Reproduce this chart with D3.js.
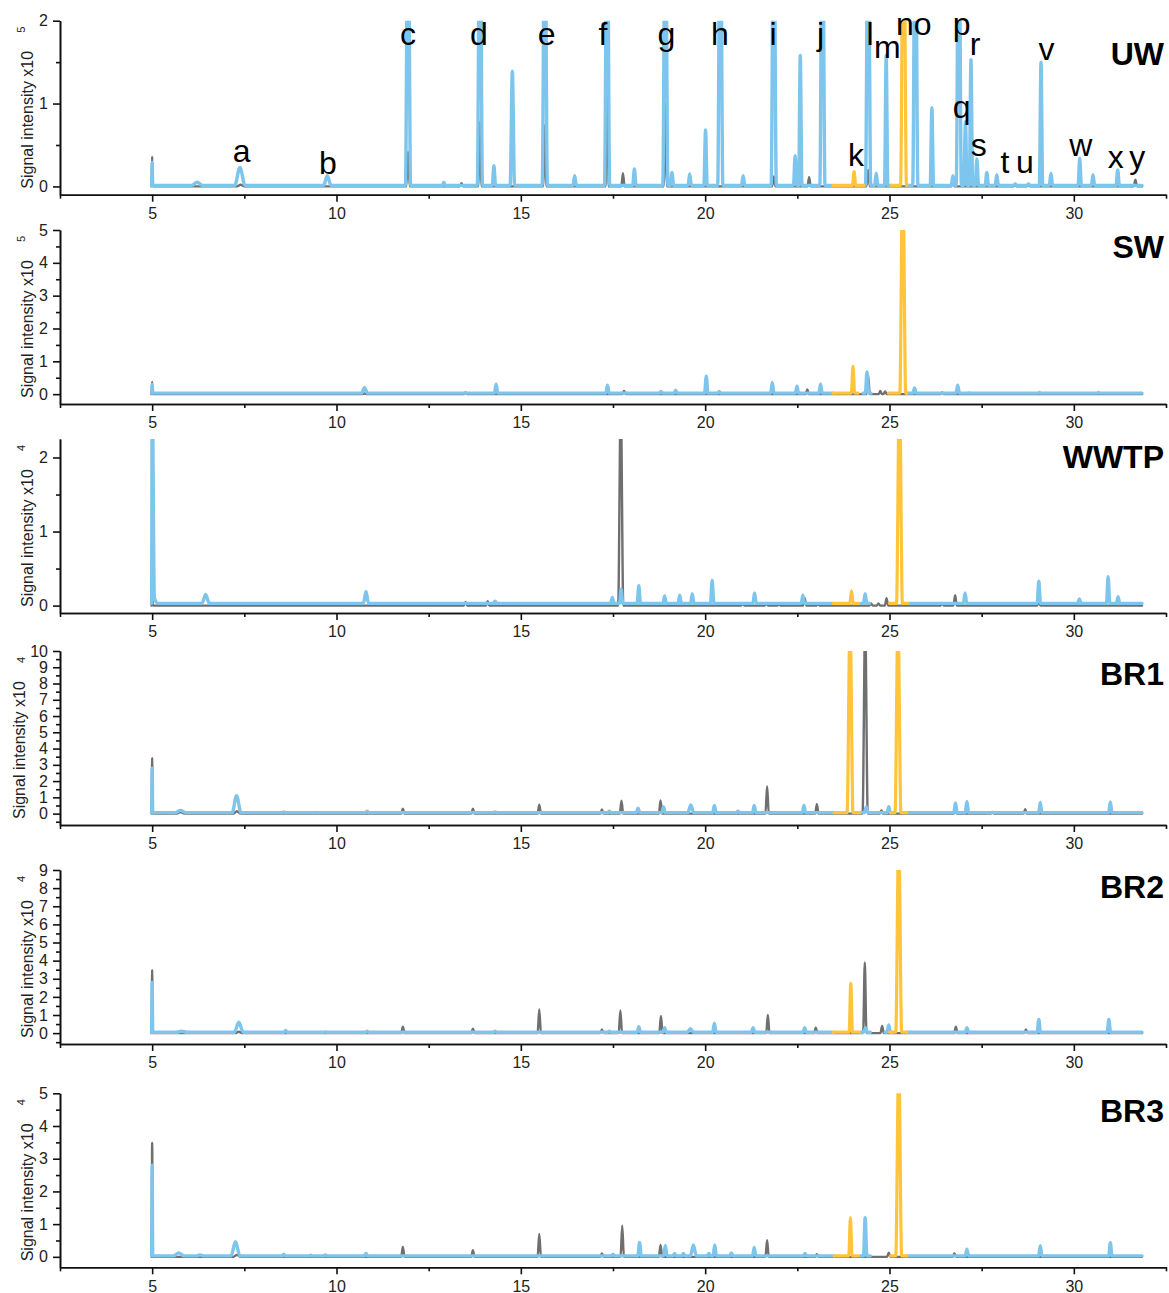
<!DOCTYPE html>
<html><head><meta charset="utf-8">
<script src="https://cdn.jsdelivr.net/npm/d3@7"></script>
<style>
body{margin:0;background:#fff;}
text{font-family:"Liberation Sans",Arial,Helvetica,sans-serif;}
</style>
</head><body>
<svg id="chart" width="1169" height="1293"></svg>
<script>
// ---------------- DATA ----------------
const panelNames = ["UW", "SW", "WWTP", "BR1", "BR2", "BR3"];
const yExponents = ["5", "5", "4", "4", "4", "4"];
const yDomains = [[-0.1, 2], [-0.3, 5], [-0.1, 2.25], [-0.7, 10], [-0.6, 9], [-0.32, 5]];
const yMaxTick = [2, 5, 2, 10, 9, 5];
const xDomain = [2.5, 32.5];
const xTicks = [5, 10, 15, 20, 25, 30];
const xMinorTicks = [2.5, 7.5, 12.5, 17.5, 22.5, 27.5, 32.5];
const yTitle = "Signal intensity x10";

// peaks: [retention time (min), intensity (x10^n), half width (min, optional)]
const grayPeaks = [
  // UW
  [[5.0,0.36,0.015],[7.4,0.02,0.1],[11.94,0.42],[13.39,0.04],[13.89,0.78],[15.65,0.74],[17.34,1.4],[17.77,0.16],[18.92,1.0],[21.86,0.12],[22.82,0.11],[24.42,0.2],[26.72,0.1],[28.41,0.03],[28.77,0.03],[31.67,0.08]],
  // SW
  [[5.0,0.37,0.015],[10.76,0.02],[13.5,0.05],[17.8,0.1],[22.77,0.14],[24.42,0.58],[24.75,0.1],[24.88,0.08],[26.43,0.05]],
  // WWTP
  [[5.0,0.4,0.015],[13.5,0.05],[14.1,0.06],[17.71,2.8,0.07],[21.02,0.03],[21.66,0.03],[22.0,0.02],[22.7,0.1],[23.06,0.02],[24.5,0.03],[24.7,0.03],[24.92,0.1],[26.43,0.03],[26.78,0.14],[29.05,0.05]],
  // BR1
  [[5.0,3.43,0.015],[5.77,0.1,0.1],[7.3,0.15,0.1],[11.8,0.3],[13.7,0.3],[15.5,0.55],[17.2,0.25],[17.73,0.79],[18.79,0.81],[21.68,1.68],[23.03,0.58],[24.34,12,0.07],[24.78,0.2],[26.79,0.2],[27.79,0.1],[28.68,0.27]],
  // BR2
  [[5.0,3.49,0.015],[7.35,0.08,0.1],[11.8,0.35],[13.7,0.25],[15.5,1.3],[17.2,0.2],[17.7,1.25],[18.8,0.95],[21.7,1.0],[23.0,0.3],[24.33,3.9],[24.8,0.4],[26.8,0.35],[28.7,0.2]],
  // BR3
  [[5.0,3.49,0.015],[7.3,0.06,0.1],[11.8,0.3],[13.7,0.2],[15.5,0.7],[17.2,0.1],[17.75,0.95],[18.79,0.36],[21.68,0.51],[23.03,0.08],[24.98,0.13],[26.76,0.1]]
];
const grayRanges = [
  [[4.98,31.85]], [[4.98,31.85]], [[4.98,31.85]], [[4.98,31.85]], [[4.98,31.85]], [[4.98,31.85]]
];

const bluePeaks = [
  // UW
  [[5.0,0.29,0.015],[6.22,0.05,0.15],[7.38,0.23,0.14],[9.75,0.13,0.1],[11.94,4,0.07],[12.91,0.05],[13.89,4,0.07],[14.27,0.25],[14.77,1.39,0.06],[15.65,4,0.07],[16.46,0.13],[17.34,4,0.07],[18.08,0.21],[18.92,4,0.07],[19.1,0.17],[19.58,0.15],[20.01,0.68],[20.41,4,0.07],[21.03,0.13],[21.86,4,0.07],[22.44,0.37],[22.58,1.58],[23.18,4,0.07],
   [24.42,4,0.07],[24.64,0.16],[24.91,1.58],
   [25.7,4,0.07],[26.15,0.95],[26.72,0.13],[26.88,4,0.07],[27.06,0.78],[27.21,1.53],[27.37,0.33],[27.64,0.17],[27.91,0.14],[28.41,0.03],[28.77,0.03],[29.11,1.5],[29.38,0.16],[30.16,0.34],[30.52,0.14],[31.19,0.2]],
  // SW
  [[5.0,0.3,0.015],[6.2,0.03,0.15],[10.76,0.2,0.08],[14.33,0.3],[17.35,0.27],[18.8,0.08],[19.2,0.12],[20.03,0.55],[20.38,0.08],[21.82,0.36],[22.49,0.24],[23.13,0.3],
   [24.39,0.68],
   [25.68,0.19],[26.85,0.27],[27.17,0.04],[29.07,0.05],[30.67,0.05],[31.17,0.03]],
  // WWTP
  [[5.0,3.0,0.015],[5.06,0.1,0.1],[6.45,0.15,0.1],[10.8,0.19,0.07],[14.3,0.06],[17.48,0.11],[17.72,0.22],[18.2,0.27],[18.9,0.13],[19.31,0.14],[19.65,0.16],[20.19,0.34],[21.34,0.17],[22.65,0.14],
   [24.34,0.16],
   [25.62,0.03],[27.05,0.17],[29.05,0.33],[30.15,0.09],[30.93,0.39],[31.2,0.12]],
  // BR1
  [[5.0,2.8,0.015],[5.77,0.2,0.14],[7.29,1.1,0.12],[8.57,0.1],[9.43,0.07],[10.83,0.15],[14.3,0.1],[17.4,0.15],[18.18,0.33],[18.87,0.41],[19.61,0.54,0.08],[20.25,0.5],[20.89,0.15],[21.33,0.5],[22.68,0.5],
   [24.37,0.41],[24.98,0.43],
   [26.79,0.66],[27.1,0.75],[29.09,0.68],[30.99,0.72]],
  // BR2
  [[5.0,2.79,0.015],[5.8,0.1,0.14],[7.35,0.6,0.12],[8.62,0.15],[9.7,0.07],[10.83,0.1],[14.3,0.1],[17.4,0.1],[18.2,0.35],[18.9,0.3],[19.6,0.25,0.08],[20.25,0.55],[21.3,0.3],[22.7,0.3],
   [24.35,0.3],[24.98,0.45],
   [27.1,0.3],[29.05,0.75],[30.95,0.75]],
  // BR3
  [[5.0,2.8,0.015],[5.72,0.12,0.14],[6.3,0.06,0.1],[7.26,0.46,0.12],[8.57,0.08],[9.3,0.05],[9.7,0.06],[10.8,0.1],[17.5,0.08],[18.22,0.44],[18.92,0.35],[19.17,0.1],[19.41,0.1],[19.68,0.36,0.08],[20.1,0.1],[20.26,0.36],[20.71,0.12],[21.33,0.29],[22.71,0.1],
   [24.34,1.2],
   [27.1,0.23],[29.09,0.34],[30.99,0.43]]
];
const blueRanges = [
  [[4.98,23.47],[24.3,25.05],[25.47,31.85]],
  [[4.98,23.47],[24.28,24.5],[25.47,31.85]],
  [[4.98,23.47],[24.22,24.46],[25.5,31.85]],
  [[4.98,23.5],[24.19,25.03],[25.47,31.85]],
  [[4.98,23.47],[24.22,24.48],[24.88,25.05],[25.47,31.85]],
  [[4.98,23.5],[24.2,24.48],[25.47,31.85]]
];
const blueBaseline = [0.012, 0.03, 0.03, 0.06, 0.05, 0.03];

const orangePeaks = [
  [[24.04,0.18],[25.38,4,0.08]],
  [[24.01,0.85],[25.36,7,0.08]],
  [[23.97,0.2],[25.27,3,0.08]],
  [[23.93,12,0.08],[25.23,12,0.08]],
  [[23.95,2.75],[25.25,11,0.08]],
  [[23.94,1.2],[25.25,6,0.08]]
];
const orangeRanges = [
  [[23.47,24.3],[25.05,25.47]],
  [[23.47,24.15],[24.97,25.47]],
  [[23.47,24.16],[25.0,25.5]],
  [[23.5,24.19],[25.03,25.47]],
  [[23.47,24.18],[25.0,25.47]],
  [[23.5,24.16],[25.03,25.47]]
];

// peak labels (UW panel): letter, retention time, label baseline (x10^5)
const peakLabels = ["a","b","c","d","e","f","g","h","i","j","k","l","m","n","o","p","q","r","s","t","u","v","w","x","y"];
const peakLabelT = [7.43,9.77,11.94,13.86,15.7,17.23,18.95,20.4,21.84,23.13,24.09,24.47,24.94,25.42,25.9,26.96,26.96,27.32,27.42,28.13,28.67,29.26,30.19,31.14,31.72];
const peakLabelV = [0.29,0.155,1.706,1.706,1.706,1.706,1.706,1.706,1.706,1.706,0.252,1.706,1.548,1.827,1.827,1.827,0.821,1.585,0.373,0.167,0.167,1.524,0.373,0.227,0.227];

// ---------------- LAYOUT ----------------
const panelTop = [20.7, 230, 439, 651, 870, 1093.3];
const panelH = 174;
const plotLeft = 60, plotRight = 1166;
const nameBaseline = [65, 258, 468, 685, 898, 1121.7];
const titleX = [33, 33, 33, 25, 33, 33];
const colors = {gray: "#6f6f6f", blue: "#7dc5ec", orange: "#ffc43a"};
const defaultHalfWidth = 0.045;

const svg = d3.select("#chart");
const x = d3.scaleLinear().domain(xDomain).range([plotLeft, plotRight]);

function tracePoints(peaks, range, base) {
  const [a, b] = range;
  const ps = peaks.filter(p => p[0] >= a && p[0] <= b).slice().sort((p, q) => p[0] - q[0]);
  const pts = [[a, base]];
  let prevRight = a;
  ps.forEach((p, i) => {
    const w = p[2] || defaultHalfWidth;
    const left = p[0] - w, right = p[0] + w;
    if (left > prevRight + 1e-6 && left > pts[pts.length - 1][0]) pts.push([left, base]);
    pts.push([p[0], p[1]]);
    const next = ps[i + 1];
    const nextLeft = next ? next[0] - (next[2] || defaultHalfWidth) : b;
    if (right < nextLeft - 1e-6 && right < b) pts.push([right, base]);
    prevRight = right;
  });
  if (pts[pts.length - 1][0] < b) pts.push([b, base]);
  return pts;
}

panelNames.forEach((name, i) => {
  const top = panelTop[i], bottom = top + panelH;
  const y = d3.scaleLinear().domain(yDomains[i]).range([bottom, top]);
  const g = svg.append("g");

  const clipId = "clip" + i;
  svg.append("clipPath").attr("id", clipId).append("rect")
    .attr("x", plotLeft).attr("y", top).attr("width", plotRight - plotLeft).attr("height", panelH);

  const line = d3.line().x(d => x(d[0])).y(d => y(d[1])).curve(d3.curveMonotoneX);
  const traces = g.append("g").attr("clip-path", `url(#${clipId})`)
    .attr("fill", "none").attr("stroke-linejoin", "round").attr("stroke-linecap", "round");

  grayRanges[i].forEach(r => {
    traces.append("path").attr("d", line(tracePoints(grayPeaks[i], r, 0)))
      .attr("stroke", colors.gray).attr("stroke-width", 2.4);
  });
  blueRanges[i].forEach(r => {
    traces.append("path").attr("d", line(tracePoints(bluePeaks[i], r, blueBaseline[i])))
      .attr("stroke", colors.blue).attr("stroke-width", 3.4);
  });
  orangeRanges[i].forEach(r => {
    traces.append("path").attr("d", line(tracePoints(orangePeaks[i], r, blueBaseline[i])))
      .attr("stroke", colors.orange).attr("stroke-width", 3.2);
  });

  // axes
  const xAxis = d3.axisBottom(x).tickValues(xTicks).tickSize(7).tickSizeOuter(0).tickPadding(6).tickFormat(d3.format("d"));
  const xMinor = d3.axisBottom(x).tickValues(xMinorTicks).tickSize(4).tickSizeOuter(0).tickFormat("");
  const majorY = d3.range(0, yMaxTick[i] + 0.001, 1);
  const minorY = d3.range(-0.5, yMaxTick[i], 1).filter(v => v >= yDomains[i][0]);
  const yAxis = d3.axisLeft(y).tickValues(majorY).tickSize(7).tickSizeOuter(0).tickPadding(5).tickFormat(d3.format("d"));
  const yMinor = d3.axisLeft(y).tickValues(minorY).tickSize(4).tickSizeOuter(0).tickFormat("");

  const styleAxis = sel => {
    sel.selectAll("path,line").attr("stroke", "#111").attr("stroke-width", 1.6);
    sel.selectAll("text").attr("font-size", 16).attr("fill", "#222")
      .attr("font-family", "'Liberation Sans', Arial, sans-serif");
  };
  g.append("g").attr("transform", `translate(0,${bottom})`).call(xMinor).call(styleAxis);
  g.append("g").attr("transform", `translate(0,${bottom})`).call(xAxis).call(styleAxis);
  g.append("g").attr("transform", `translate(${plotLeft},0)`).call(yMinor).call(styleAxis);
  g.append("g").attr("transform", `translate(${plotLeft},0)`).call(yAxis).call(styleAxis);

  // y title
  g.append("text").attr("transform", `translate(${titleX[i]},${bottom - 6}) rotate(-90)`)
    .attr("text-anchor", "start").attr("font-size", 16).attr("fill", "#222").text(yTitle);
  g.append("text").attr("transform", `translate(25,${top + 9}) rotate(-90)`)
    .attr("text-anchor", "middle").attr("font-size", 11).attr("fill", "#222").text(yExponents[i]);

  // panel name
  g.append("text").attr("x", 1164).attr("y", nameBaseline[i]).attr("text-anchor", "end")
    .attr("font-size", 32).attr("font-weight", "bold").attr("fill", "#000").text(name);

  if (i === 0) {
    g.append("g").selectAll("text").data(peakLabels).join("text")
      .attr("x", (d, k) => x(peakLabelT[k])).attr("y", (d, k) => y(peakLabelV[k]))
      .attr("text-anchor", "middle").attr("font-size", 32).attr("fill", "#000").text(d => d);
  }
});
</script>
</body></html>
